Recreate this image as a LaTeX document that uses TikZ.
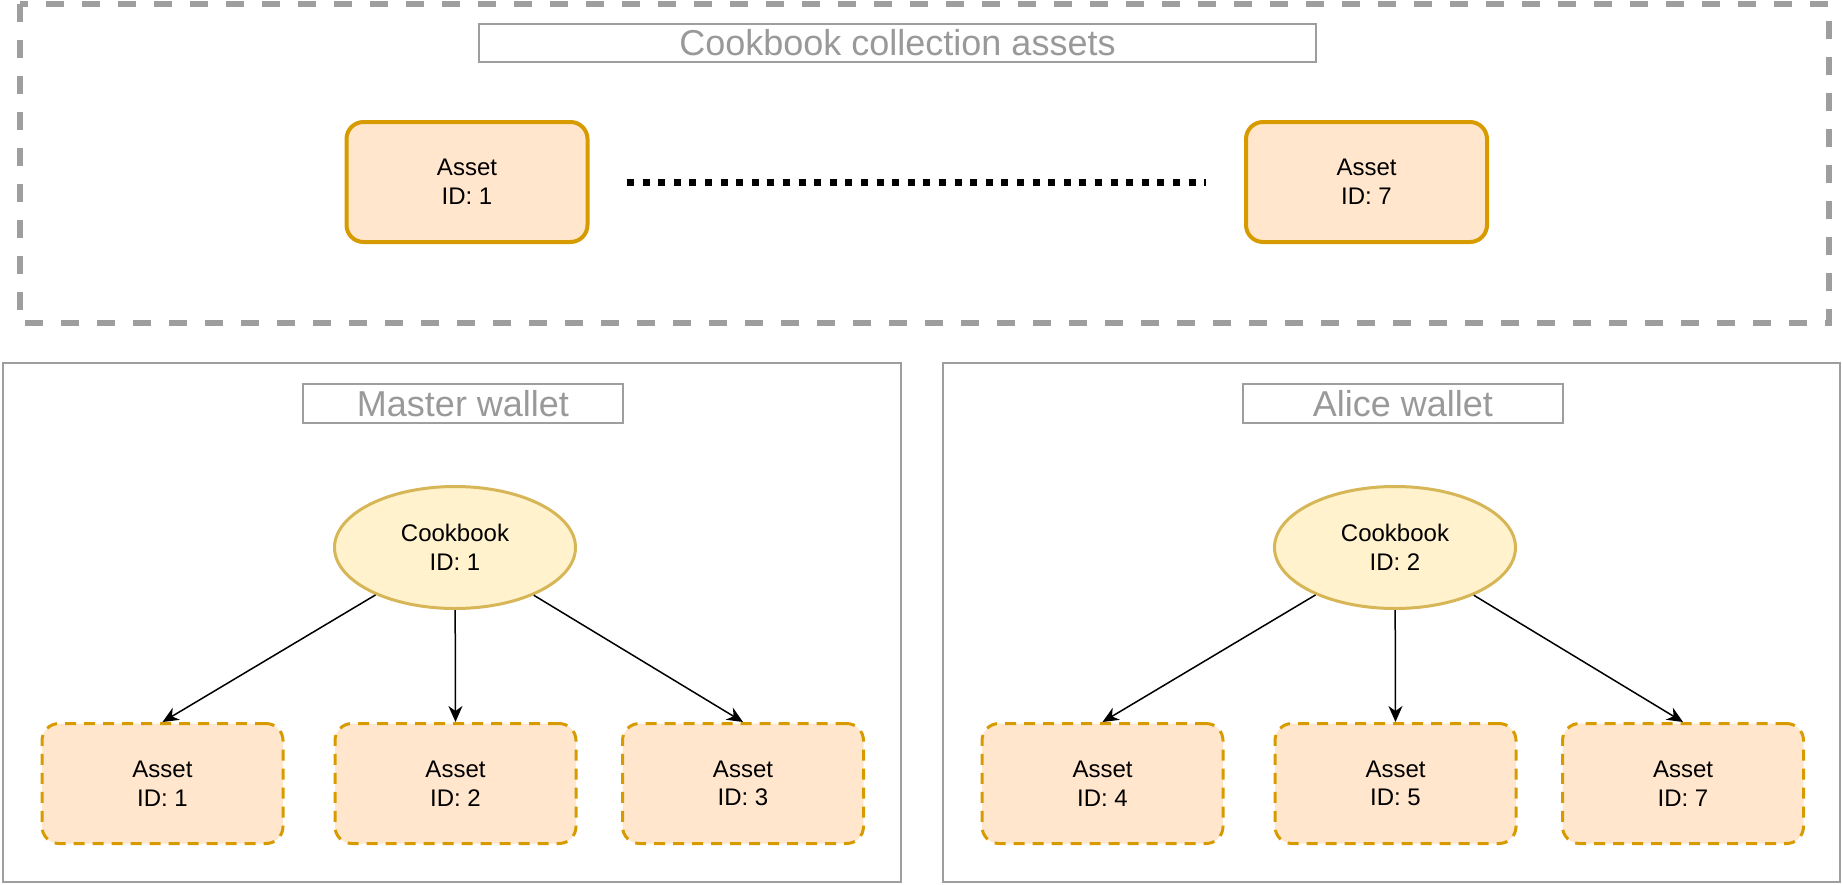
\documentclass[tikz,border=0pt]{standalone}
\usepackage{fontspec}
\setmainfont{Liberation Sans}
\usetikzlibrary{arrows.meta,shapes.geometric}

\definecolor{assetfill}{HTML}{FFE6CC}
\definecolor{assetline}{HTML}{D79B00}
\definecolor{cookfill}{HTML}{FFF2CC}
\definecolor{cookline}{HTML}{D6B656}
\definecolor{framegray}{HTML}{9E9E9E}
\definecolor{titlegray}{HTML}{999999}

\tikzset{every picture/.style={line width=0.75pt}}
\tikzset{
  asset/.style={draw=assetline, fill=assetfill, rounded corners=8.5pt, minimum width=120.5pt, minimum height=60pt, align=center, font=\fontsize{12}{14.3}\selectfont},
  assetbold/.style={asset, line width=2pt},
  assetdash/.style={asset, line width=1.5pt, dash pattern=on 5.5pt off 4pt},
  cookbook/.style={ellipse, draw=cookline, fill=cookfill, line width=1.5pt, inner sep=0pt, minimum width=120.5pt, minimum height=61pt, align=center, font=\fontsize{12}{14.3}\selectfont},
  titlebox/.style={draw=framegray, line width=1pt, inner sep=0pt, text=titlegray, font=\fontsize{18}{21}\selectfont},
  arr/.style={-{Stealth[length=8pt,width=7pt,inset=2.5pt]}, line width=0.75pt}
}

\begin{document}
\begin{tikzpicture}[x=0.5pt,y=0.5pt,yscale=-1,xscale=1]
\useasboundingbox (0,0) rectangle (1842,884);

%Shape: Rectangle [collection]
\draw [framegray, line width=2.75pt, dash pattern=on 9pt off 9pt] (20,4) rectangle (1829,323);
%Shape: Rectangle [master wallet]
\draw [framegray, line width=1pt] (3,363) rectangle (901,882);
%Shape: Rectangle [alice wallet]
\draw [framegray, line width=1pt] (943,363) rectangle (1840,882);

% Text Node
\draw (897.5,43) node [titlebox, minimum width=418.5pt, minimum height=19pt] (colltitle) {Cookbook collection assets};
% Text Node
\draw (463,403.5) node [titlebox, minimum width=160pt, minimum height=19.5pt] (mastertitle) {Master wallet};
% Text Node
\draw (1403,403.5) node [titlebox, minimum width=160pt, minimum height=19.5pt] (alicetitle) {Alice wallet};

%Shape: Rounded Rect [collection assets]
\draw (467,182) node [assetbold] (first) {Asset\\ID: 1};
\draw (1366.5,182) node [assetbold] (last) {Asset\\ID: 7};
%Straight Lines [dotted]
\coordinate (dotL) at (627,182.5);
\coordinate (dotR) at (1206,182.5);
\draw [line width=3.5pt, dash pattern=on 3.5pt off 4.3pt] (dotL) -- (dotR);

%Shape: Ellipse [cookbooks]
\draw (455,547.5) node [cookbook] (ck1) {Cookbook\\ID: 1};
\draw (1395,547.5) node [cookbook] (ck2) {Cookbook\\ID: 2};

%Shape: Rounded Rect [master wallet assets]
\draw (162.5,783.5) node [assetdash] (m1) {Asset\\ID: 1};
\draw (455.5,783.5) node [assetdash] (m2) {Asset\\ID: 2};
\draw (743,783.5) node [assetdash] (m3) {Asset\\ID: 3};
%Shape: Rounded Rect [alice wallet assets]
\draw (1102.5,783.5) node [assetdash] (a4) {Asset\\ID: 4};
\draw (1395.5,783.5) node [assetdash] (a5) {Asset\\ID: 5};
\draw (1683,783.5) node [assetdash] (a7) {Asset\\ID: 7};

%Straight Lines [owned]
\draw [arr] (ck1) -- (m1.north);
\draw [arr] (ck1) -- (m2.north);
\draw [arr] (ck1) -- (m3.north);
\draw [arr] (ck2) -- (a4.north);
\draw [arr] (ck2) -- (a5.north);
\draw [arr] (ck2) -- (a7.north);

\end{tikzpicture}
\end{document}
